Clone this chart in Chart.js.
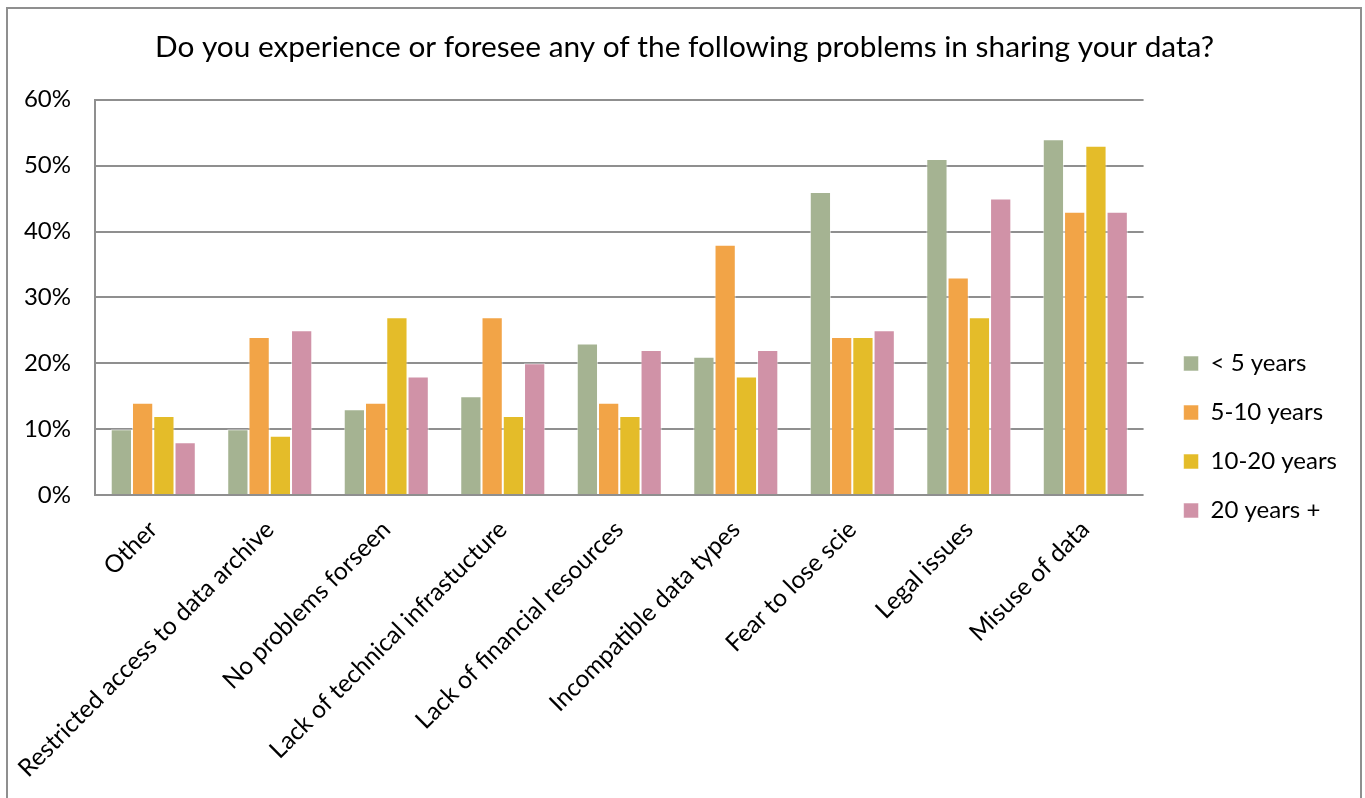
<!DOCTYPE html>
<html>
<head>
<meta charset="utf-8">
<script src="https://cdn.jsdelivr.net/npm/chart.js@4.4.1/dist/chart.umd.min.js"></script>
<style>
  html, body { margin: 0; padding: 0; background: #fff; }
  #wrap { position: relative; width: 1365px; height: 798px; overflow: hidden; }
  #frame { position: absolute; left: 6px; top: 7px; width: 1352px; height: 820px; border: 2px solid #8f8f8f; pointer-events: none; }
</style>
</head>
<body>
<div id="wrap">
  <canvas id="chart1" width="1365" height="798"></canvas>
  <div id="frame"></div>
</div>
<script>
// Survey answers, percent of respondents per career length
const problems = ['Other', 'Restricted access to data archive', 'No problems forseen', 'Lack of technical infrastucture',
    'Lack of financial resources', 'Incompatible data types', 'Fear to lose scie', 'Legal issues', 'Misuse of data'];
const under5 = [10, 10, 13, 15, 23, 21, 46, 51, 54];
const from5to10 = [14, 24, 14, 27, 14, 38, 24, 33, 43];
const from10to20 = [12, 9, 27, 12, 12, 18, 24, 27, 53];
const over20 = [8, 25, 18, 20, 22, 22, 25, 45, 43];
const yTicks = [0, 10, 20, 30, 40, 50, 60];

const font = 'Lato, "Open Sans", sans-serif';

function series(label, values, color) {
    return {
        label: label,
        data: values,
        backgroundColor: color,
        borderColor: 'rgba(255,255,255,0.55)',
        borderWidth: 1
    };
}

const ctx = document.getElementById('chart1');

new Chart(ctx, {
    type: 'bar',
    data: {
        labels: problems,
        datasets: [
            series('< 5 years', under5, '#a5b392'),
            series('5-10 years', from5to10, '#f2a447'),
            series('10-20 years', from10to20, '#e4bc29'),
            series('20 years +', over20, '#d092a7')
        ]
    },
    options: {
        responsive: false,
        animation: false,
        layout: { padding: { left: 22, right: 18, top: 0, bottom: 0 } },
        datasets: { bar: { barPercentage: 1, categoryPercentage: 0.73 } },
        plugins: {
            title: {
                display: true,
                text: 'Do you experience or foresee any of the following problems in sharing your data?',
                color: '#000',
                font: { family: font, size: 29.8, weight: 'normal' },
                padding: { top: 30, bottom: 34 }
            },
            legend: {
                position: 'right',
                // blank title only pushes the entries down a little
                title: { display: true, text: ' ', font: { size: 20 }, padding: { top: 0, bottom: 52 } },
                labels: {
                    color: '#000',
                    font: { family: font, size: 24 },
                    boxWidth: 15,
                    boxHeight: 15,
                    padding: 25
                }
            },
            tooltip: { enabled: false }
        },
        scales: {
            x: {
                grid: { display: false },
                border: { display: false },
                ticks: {
                    color: '#000',
                    font: { family: font, size: 24.5 },
                    minRotation: 45,
                    maxRotation: 45,
                    autoSkip: false,
                    padding: 12
                },
                afterFit: function (scale) { scale.height = 303; }
            },
            y: {
                min: 0,
                max: 60,
                afterBuildTicks: function (scale) {
                    scale.ticks = yTicks.map(v => ({ value: v }));
                },
                grid: { color: '#8f8f8f', lineWidth: 2, drawTicks: false },
                border: { color: '#8f8f8f', width: 2 },
                ticks: {
                    color: '#000',
                    font: { family: font, size: 24 },
                    padding: 24,
                    callback: v => v + '%'
                },
                afterFit: function (scale) { scale.width = 73; }
            },
            // empty axis, keeps a gap between the plot and the legend
            gap: {
                position: 'right',
                grid: { display: false },
                border: { display: false },
                ticks: { display: false },
                afterFit: function (scale) { scale.width = 15; }
            }
        }
    }
});
</script>
</body>
</html>
